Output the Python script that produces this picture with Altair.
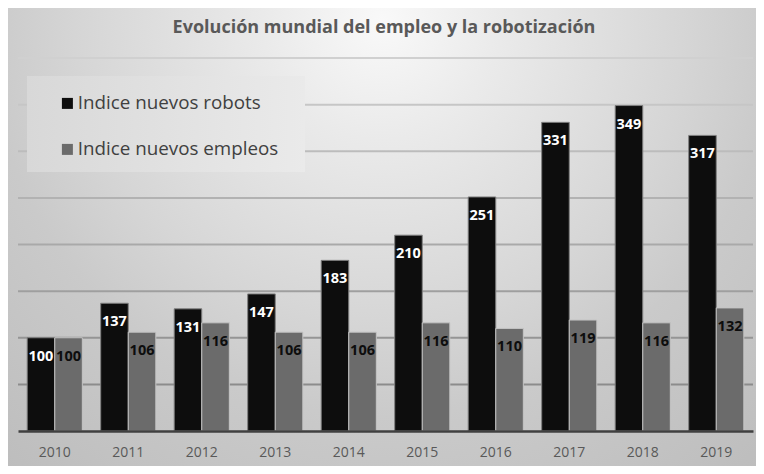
import altair as alt
import pandas as pd

years = ["2010", "2011", "2012", "2013", "2014", "2015", "2016", "2017", "2018", "2019"]
robots = [100, 137, 131, 147, 183, 210, 251, 331, 349, 317]
empleos = [100, 106, 116, 106, 106, 116, 110, 119, 116, 132]
series = ["Indice nuevos robots", "Indice nuevos empleos"]
grid_values = [50, 100, 150, 200, 250, 300, 350, 400]
title = "Evolución mundial del empleo y la robotización"

rows = []
for i, y in enumerate(years):
    rows.append({"year": y, "serie": series[0], "value": robots[i]})
    rows.append({"year": y, "serie": series[1], "value": empleos[i]})
df = pd.DataFrame(rows)

FONT = "Open Sans"
yscale = alt.Scale(domain=[0, 400], nice=False, zero=True)
xenc = alt.X("year:N", sort=years, scale=alt.Scale(paddingInner=0.25, paddingOuter=0.125),
             axis=alt.Axis(title=None, labelAngle=0, ticks=False, domainColor="#404040",
                           domainWidth=2.5, labelFontSize=14, labelFont=FONT,
                           labelColor="#595959", labelPadding=14, zindex=1, grid=False))

bg_grad = alt.RadialGradient(
    gradient="radial",
    stops=[alt.GradientStop(color="#f9f9f9", offset=0),
           alt.GradientStop(color="#eaeaea", offset=0.2),
           alt.GradientStop(color="#d6d6d6", offset=0.5),
           alt.GradientStop(color="#cacaca", offset=0.66),
           alt.GradientStop(color="#bcbcbc", offset=1)],
    x1=0.5, y1=0.5, x2=0.5, y2=0.5, r1=0, r2=0.5)

bg = alt.Chart(pd.DataFrame({"a": [0]})).mark_rect(fill=bg_grad).encode(
    x=alt.value(-236), x2=alt.value(964), y=alt.value(-638), y2=alt.value(562))

title_mark = alt.Chart(pd.DataFrame({"t": [title]})).mark_text(
    fontSize=18, font=FONT, fontWeight="bold", color="#595959", baseline="alphabetic", align="center"
).encode(x=alt.value(366), y=alt.value(-25), text="t:N")

grid = alt.Chart(pd.DataFrame({"v": grid_values})).mark_rule(strokeWidth=2).encode(
    y=alt.Y("v:Q", scale=yscale, axis=None),
    color=alt.Color("v:Q", scale=alt.Scale(domain=[50, 400], range=["#8c8c8c", "#d0d0d0"]), legend=None))

box_grad = alt.LinearGradient(
    gradient="linear",
    stops=[alt.GradientStop(color="#d8d8d8", offset=0), alt.GradientStop(color="#eaeaea", offset=1)],
    x1=0, x2=1, y1=0, y2=0)
legbox = alt.Chart(pd.DataFrame({"a": [0]})).mark_rect(fill=box_grad).encode(
    x=alt.value(9), x2=alt.value(287), y=alt.value(18), y2=alt.value(114))

bars = alt.Chart(df).mark_bar(strokeWidth=1).encode(
    x=xenc,
    xOffset=alt.XOffset("serie:N", sort=series),
    y=alt.Y("value:Q", scale=yscale, axis=None),
    fill=alt.Fill("serie:N", sort=series,
                  scale=alt.Scale(domain=series, range=["#0d0d0d", "#6b6b6b"]),
                  legend=alt.Legend(title=None, orient="none", legendX=40, legendY=36,
                                    symbolType="square", symbolSize=121, symbolStrokeWidth=0,
                                    labelFontSize=18.8, labelFont=FONT, labelColor="#404040",
                                    labelLimit=500, rowPadding=26, labelOffset=1, padding=0)),
    stroke=alt.Stroke("serie:N", scale=alt.Scale(domain=series, range=["#808080", "#c4c4c4"]), legend=None),
)

labels = alt.Chart(df).mark_text(fontWeight="bold", fontSize=14.5, font=FONT, baseline="middle", dy=19).encode(
    x=xenc,
    xOffset=alt.XOffset("serie:N", sort=series),
    y=alt.Y("value:Q", scale=yscale, axis=None),
    text=alt.Text("value:Q"),
    fill=alt.condition(f"datum.serie == '{series[0]}'", alt.value("#ffffff"), alt.value("#0d0d0d")),
)

chart = alt.layer(bg, title_mark, grid, legbox, bars, labels).properties(
    width=735, height=373,
    padding={"left": 10, "top": 50, "right": 3, "bottom": 35},
    autosize=alt.AutoSizeParams(type="none"),
).configure_view(stroke=None).configure(background="#ffffff")

chart.save("out.html", embed_options={"renderer": "svg", "actions": False})
